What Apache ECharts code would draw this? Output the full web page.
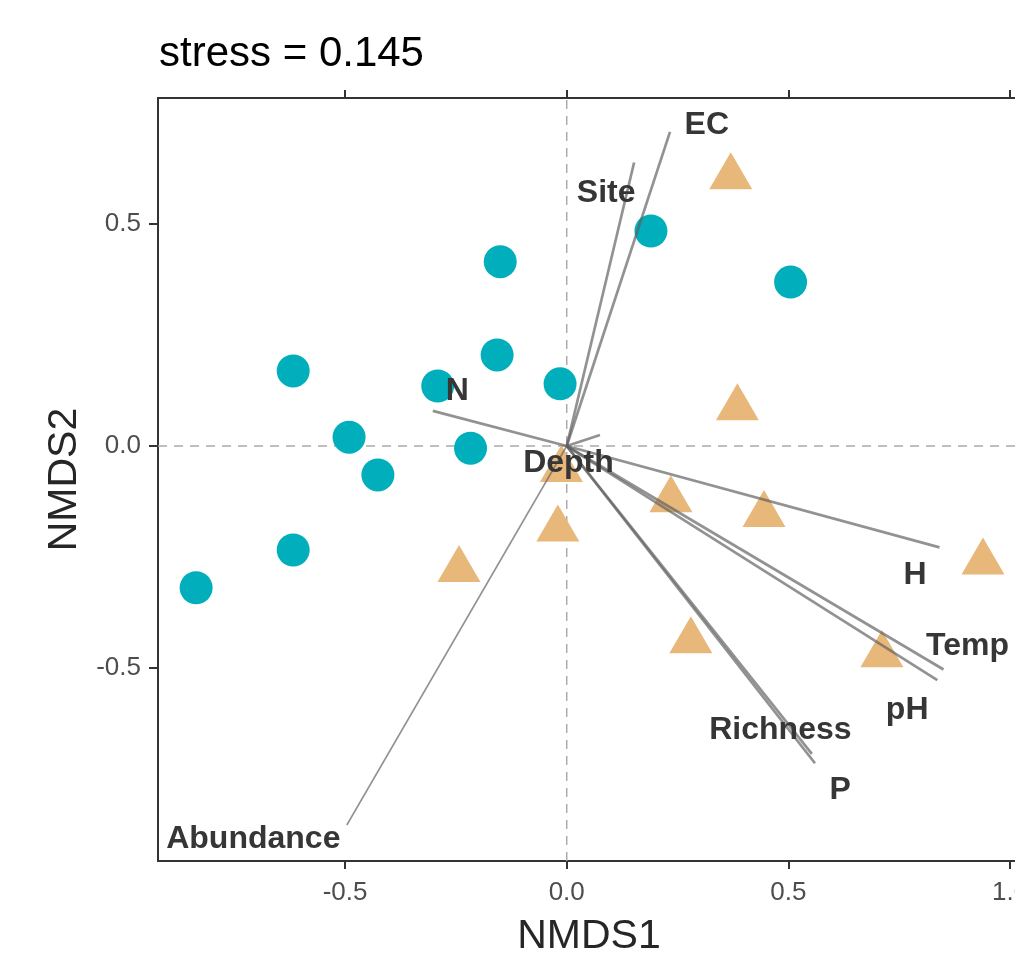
<!DOCTYPE html>
<html>
<head>
<meta charset="utf-8">
<script src="https://cdn.jsdelivr.net/npm/echarts@6/dist/echarts.min.js"></script>
<style>
html,body{margin:0;padding:0;background:#ffffff;}
#chart{width:1015px;height:957px;}
</style>
</head>
<body>
<div id="chart"></div>
<script>
// ---- data ----
const circleX = [-0.150, -0.617, -0.157, -0.291, -0.015, -0.491, -0.217, -0.426, -0.617, -0.836, 0.190, 0.505];
const circleY = [ 0.415,  0.169,  0.205,  0.135,  0.140,  0.020, -0.005, -0.065, -0.234, -0.319, 0.484, 0.369];

const triangleX = [0.370, 0.385,  0.235,  0.445,  0.939,  0.280,  0.711, -0.020, -0.243, -0.012];
const triangleY = [0.606, 0.086, -0.121, -0.154, -0.261, -0.438, -0.470, -0.187, -0.278, -0.053];

const vecNames = ['EC', 'Site', 'N', 'Depth', 'H', 'Temp', 'pH', 'Richness', 'P', 'Abundance'];
const vecX     = [0.233, 0.152, -0.302, 0.075,  0.841,  0.850,  0.836,  0.553,  0.560, -0.496];
const vecY     = [0.707, 0.638,  0.079, 0.025, -0.228, -0.503, -0.527, -0.693, -0.714, -0.853];
const labelX   = [0.316, 0.089, -0.247, 0.004,  0.786,  0.904,  0.768,  0.482,  0.617, -0.707];
const labelY   = [0.722, 0.569,  0.124, -0.039, -0.290, -0.451, -0.594, -0.640, -0.774, -0.885];

const xTicks = [-0.5, 0.0, 0.5, 1.0];
const yTicks = [-0.5, 0.0, 0.5];

const titleText = 'stress = 0.145';
const xTitle = 'NMDS1';
const yTitle = 'NMDS2';

// ---- chart ----
const X_MIN = -0.922, X_MAX = 1.0225, Y_MIN = -0.934, Y_MAX = 0.7833;
const FONT = '"Liberation Sans", Arial, Helvetica, sans-serif';
const AXIS_COLOR = '#333333';

const chart = echarts.init(document.getElementById('chart'), null, {renderer: 'canvas'});

const vectorSeries = vecNames.map((n, i) => ({
  type: 'line',
  name: n,
  data: [[0, 0], [vecX[i], vecY[i]]],
  showSymbol: false,
  symbol: 'none',
  silent: true,
  z: 4,
  lineStyle: {
    color: n === 'Abundance' ? 'rgba(100,100,100,0.7)' : 'rgba(95,95,95,0.68)',
    width: n === 'Abundance' ? 1.6 : 2.7
  }
}));

const option = {
  animation: false,
  backgroundColor: '#ffffff',
  title: {
    text: titleText,
    left: 154,
    top: 28,
    textStyle: {fontFamily: FONT, fontSize: 42, fontWeight: 'normal', color: '#000000'}
  },
  grid: {left: 158, top: 98, right: -5, bottom: 96, outerBoundsMode: 'none'},
  xAxis: [
    {
      type: 'value', min: X_MIN, max: X_MAX, position: 'bottom',
      name: xTitle, nameLocation: 'middle', nameGap: 55,
      nameTextStyle: {fontFamily: FONT, fontSize: 41, color: '#262626'},
      axisLine: {show: true, onZero: false, lineStyle: {color: AXIS_COLOR, width: 2}},
      axisTick: {show: true, customValues: xTicks, length: 8, lineStyle: {color: AXIS_COLOR, width: 2}},
      axisLabel: {customValues: xTicks, margin: 19, fontFamily: FONT, fontSize: 26, color: '#4d4d4d',
                  formatter: v => Number(v).toFixed(1)},
      splitLine: {show: false}
    },
    {
      type: 'value', min: X_MIN, max: X_MAX, position: 'top',
      axisLine: {show: true, onZero: false, lineStyle: {color: AXIS_COLOR, width: 2}},
      axisTick: {show: true, customValues: xTicks, length: 8, lineStyle: {color: AXIS_COLOR, width: 2}},
      axisLabel: {show: false},
      splitLine: {show: false}
    }
  ],
  yAxis: [
    {
      type: 'value', min: Y_MIN, max: Y_MAX, position: 'left',
      name: yTitle, nameLocation: 'middle', nameGap: 70,
      nameTextStyle: {fontFamily: FONT, fontSize: 41, color: '#262626'},
      axisLine: {show: true, onZero: false, lineStyle: {color: AXIS_COLOR, width: 2}},
      axisTick: {show: true, customValues: yTicks, length: 9, lineStyle: {color: AXIS_COLOR, width: 2}},
      axisLabel: {customValues: yTicks, margin: 17, fontFamily: FONT, fontSize: 26, color: '#4d4d4d',
                  formatter: v => Number(v).toFixed(1)},
      splitLine: {show: false}
    }
  ],
  series: [
    {
      type: 'line', data: [[0, Y_MIN], [0, Y_MAX]], showSymbol: false, symbol: 'none', silent: true, z: 1,
      lineStyle: {color: '#aaaaaa', width: 1.5, type: [9, 7]}
    },
    {
      type: 'line', data: [[X_MIN, 0], [X_MAX, 0]], showSymbol: false, symbol: 'none', silent: true, z: 1,
      lineStyle: {color: '#aaaaaa', width: 1.5, type: [9, 7]}
    },
    {
      type: 'scatter', name: 'circles', z: 2,
      data: circleX.map((x, i) => [x, circleY[i]]),
      symbol: 'circle', symbolSize: 33,
      itemStyle: {color: '#00AFBB', opacity: 1}
    },
    {
      type: 'scatter', name: 'triangles', z: 3,
      data: triangleX.map((x, i) => [x, triangleY[i]]),
      symbol: 'triangle', symbolSize: [43, 37], symbolOffset: [0, -6],
      itemStyle: {color: '#E7B87A', opacity: 1}
    },
    ...vectorSeries,
    {
      type: 'scatter', name: 'labels', z: 6, silent: true,
      data: vecNames.map((n, i) => ({name: n, value: [labelX[i], labelY[i]]})),
      symbolSize: 1,
      itemStyle: {color: 'rgba(0,0,0,0)'},
      label: {
        show: true, position: 'inside', formatter: '{b}',
        fontFamily: FONT, fontSize: 32, fontWeight: 'bold', color: '#363636', opacity: 1
      },
      labelLayout: {hideOverlap: false}
    }
  ]
};

chart.setOption(option);
</script>
</body>
</html>
